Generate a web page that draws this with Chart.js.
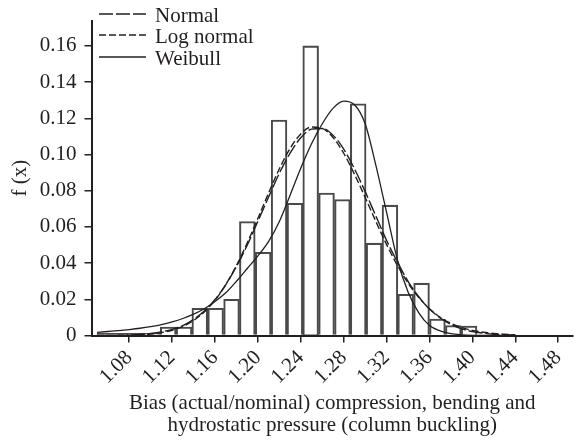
<!DOCTYPE html>
<html lang="en">
<head>
<meta charset="UTF-8">
<title>Bias histogram</title>
<script src="https://cdn.jsdelivr.net/npm/chart.js"></script>
<style>
    html, body { margin: 0; padding: 0; background: #fff; }
    #wrap { width: 579px; height: 441px; }
</style>
</head>
<body>
<div id="wrap"><canvas id="myChart"></canvas></div>
<script>
    // histogram bins (centres) and relative frequencies
    const binCenters = [1.0572, 1.0720, 1.0867, 1.1015, 1.1163, 1.1311, 1.1458, 1.1606,
                        1.1754, 1.1901, 1.2049, 1.2197, 1.2345, 1.2492, 1.2640, 1.2788,
                        1.2935, 1.3083, 1.3231, 1.3378, 1.3526, 1.3674, 1.3822, 1.3969];
    const binHeights = [0.0012, 0.0012, 0.0012, 0.0012, 0.0047, 0.0047, 0.0150, 0.0150,
                        0.0200, 0.0630, 0.0460, 0.1190, 0.0730, 0.1600, 0.0787, 0.0751,
                        0.1280, 0.0510, 0.0720, 0.0228, 0.0289, 0.0091, 0.0055, 0.0052];

    // fitted curves
    const curveX = [1.05, 1.06, 1.07, 1.08, 1.09, 1.10, 1.11, 1.12, 1.13, 1.14,
                    1.15, 1.16, 1.17, 1.18, 1.19, 1.20, 1.21, 1.22, 1.23, 1.24,
                    1.25, 1.26, 1.27, 1.28, 1.29, 1.30, 1.31, 1.32, 1.33, 1.34,
                    1.35, 1.36, 1.37, 1.38, 1.39, 1.40, 1.41, 1.42, 1.43, 1.44];
    const normalY = [0.0000, 0.0001, 0.0002, 0.0003, 0.0006, 0.0011, 0.0020, 0.0034, 0.0055, 0.0089,
                     0.0135, 0.0199, 0.0280, 0.0382, 0.0499, 0.0632, 0.0765, 0.0897, 0.1008, 0.1093,
                     0.1140, 0.1144, 0.1107, 0.1030, 0.0922, 0.0795, 0.0660, 0.0525, 0.0407, 0.0299,
                     0.0214, 0.0146, 0.0097, 0.0061, 0.0037, 0.0022, 0.0013, 0.0007, 0.0004, 0.0002];
    const logNormalY = [0.0000, 0.0000, 0.0001, 0.0002, 0.0004, 0.0008, 0.0016, 0.0029, 0.0050, 0.0083,
                        0.0130, 0.0195, 0.0281, 0.0387, 0.0511, 0.0648, 0.0788, 0.0921, 0.1034, 0.1114,
                        0.1152, 0.1144, 0.1094, 0.1007, 0.0892, 0.0763, 0.0630, 0.0502, 0.0388, 0.0290,
                        0.0210, 0.0148, 0.0101, 0.0067, 0.0044, 0.0028, 0.0018, 0.0011, 0.0007, 0.0004];
    const weibullY = [0.0017, 0.0022, 0.0027, 0.0033, 0.0040, 0.0049, 0.0060, 0.0075, 0.0094, 0.0118,
                      0.0148, 0.0188, 0.0236, 0.0300, 0.0370, 0.0440, 0.0520, 0.0630, 0.0775, 0.0925,
                      0.1060, 0.1170, 0.1255, 0.1295, 0.1275, 0.1170, 0.0940, 0.0680, 0.0420, 0.0240,
                      0.0125, 0.0055, 0.0025, 0.0010, 0.0004, 0.0001, 0.0000, 0.0000, 0.0000, 0.0000];

    const xTicks = [1.08, 1.12, 1.16, 1.20, 1.24, 1.28, 1.32, 1.36, 1.40, 1.44, 1.48];
    const yTicks = [0, 0.02, 0.04, 0.06, 0.08, 0.10, 0.12, 0.14, 0.16];

    const ink = '#231f20';
    const serif = 'Liberation Serif, Times New Roman, serif';

    function pts(ys) {
        return curveX.map((x, i) => ({x: x, y: ys[i]}));
    }

    // legend drawn inside the plot, top left
    const insideLegend = {
        id: 'insideLegend',
        afterDraw(chart) {
            const ctx = chart.ctx;
            const rows = [14, 35, 57];
            ctx.save();
            ctx.font = '21px ' + serif;
            ctx.fillStyle = ink;
            ctx.textBaseline = 'middle';
            for (let i = 0; i < 3; i++) {
                const ds = chart.data.datasets[i];
                ctx.strokeStyle = ink;
                ctx.lineWidth = 1.6;
                ctx.setLineDash(ds.borderDash || []);
                ctx.beginPath();
                ctx.moveTo(99, rows[i]);
                ctx.lineTo(146, rows[i]);
                ctx.stroke();
                ctx.setLineDash([]);
                ctx.fillText(ds.label, 155, rows[i] + 2);
            }
            ctx.restore();
        }
    };

    const ctx = document.getElementById('myChart').getContext('2d');
    const myChart = new Chart(ctx, {
        type: 'bar',
        data: {
            datasets: [
                {
                    type: 'line', label: 'Normal', data: pts(normalY),
                    borderColor: ink, borderWidth: 1.4, borderDash: [14, 3],
                    pointRadius: 0, cubicInterpolationMode: 'monotone', order: 0
                },
                {
                    type: 'line', label: 'Log normal', data: pts(logNormalY),
                    borderColor: ink, borderWidth: 1.4, borderDash: [7, 3],
                    pointRadius: 0, cubicInterpolationMode: 'monotone', order: 0
                },
                {
                    type: 'line', label: 'Weibull', data: pts(weibullY),
                    borderColor: ink, borderWidth: 1.3,
                    pointRadius: 0, cubicInterpolationMode: 'monotone', order: 0
                },
                {
                    type: 'bar', label: 'Histogram',
                    data: binCenters.map((x, i) => ({x: x, y: binHeights[i]})),
                    backgroundColor: 'rgba(255,255,255,0)',
                    borderColor: '#4a4a4a', borderWidth: 1.4,
                    barPercentage: 1, categoryPercentage: 1, order: 1
                }
            ]
        },
        options: {
            responsive: true,
            maintainAspectRatio: false,
            animation: false,
            devicePixelRatio: 1,
            layout: { padding: { top: 8, right: 0, left: 0, bottom: 0 } },
            plugins: { legend: { display: false }, tooltip: { enabled: false } },
            scales: {
                x: {
                    type: 'linear', offset: false,
                    min: 1.0448, max: 1.4938,
                    afterBuildTicks: s => { s.ticks = xTicks.map(v => ({value: v})); },
                    afterFit: s => { s.height = 105.5; },
                    ticks: {
                        autoSkip: false, minRotation: 45, maxRotation: 45, padding: 3,
                        color: ink, font: { family: serif, size: 21 },
                        callback: v => v.toFixed(2)
                    },
                    grid: { drawOnChartArea: false, offset: false, tickLength: 7, color: ink, lineWidth: 1.5 },
                    border: { color: ink, width: 2 },
                    title: {
                        display: true,
                        text: ['Bias (actual/nominal) compression, bending and',
                               'hydrostatic pressure (column buckling)'],
                        color: ink, font: { family: serif, size: 21, lineHeight: 1.05 },
                        padding: { top: 0, bottom: 4 }
                    }
                },
                y: {
                    min: 0, max: 0.174,
                    afterBuildTicks: s => { s.ticks = yTicks.map(v => ({value: v})); },
                    afterFit: s => { s.width = 91.5; },
                    ticks: {
                        padding: 8, color: ink, font: { family: serif, size: 21 },
                        callback: v => v === 0 ? '0' : v.toFixed(2)
                    },
                    grid: { drawOnChartArea: false, tickLength: 7, color: ink, lineWidth: 1.5 },
                    border: { color: ink, width: 2 },
                    title: {
                        display: true, text: 'f (x)', color: ink,
                        font: { family: serif, size: 21, lineHeight: 1.05 },
                        padding: { top: 9, bottom: 0 }
                    }
                }
            }
        },
        plugins: [insideLegend]
    });
</script>
</body>
</html>
